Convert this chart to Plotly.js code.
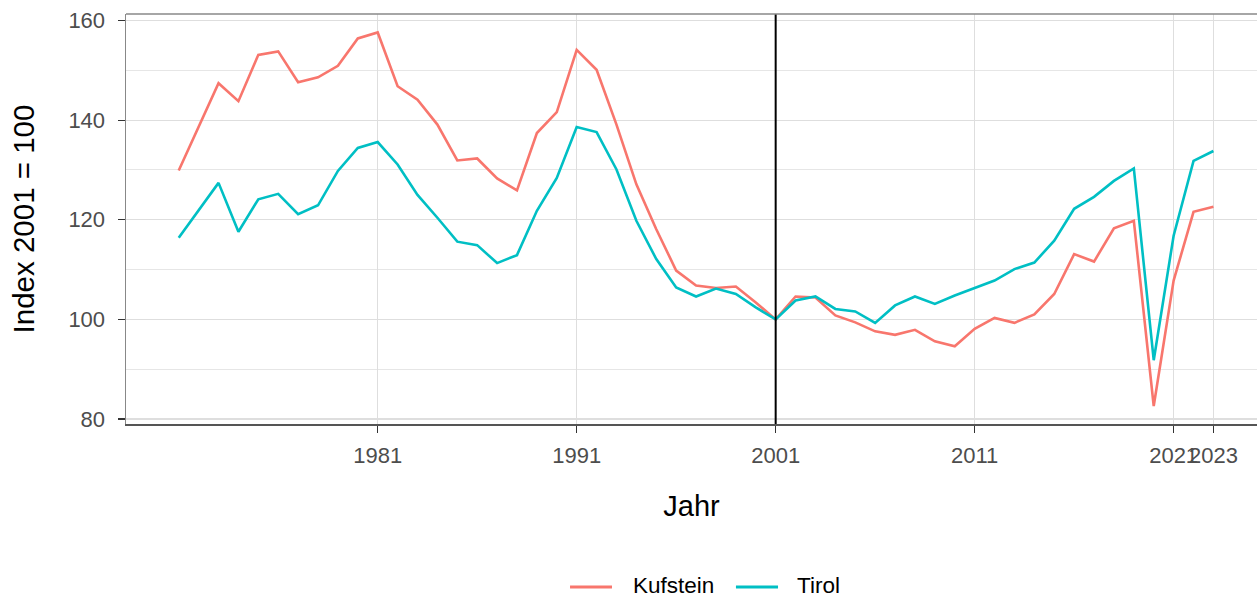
<!DOCTYPE html>
<html>
<head>
<meta charset="utf-8">
<script src="https://cdn.plot.ly/plotly-3.0.1.min.js"></script>
<style>html,body{margin:0;padding:0;background:#fff;}#chart{width:1257px;height:599px;}</style>
</head>
<body>
<div id="chart"></div>
<script>
var years = [1971,1972,1973,1974,1975,1976,1977,1978,1979,1980,1981,1982,1983,1984,1985,1986,1987,1988,1989,1990,1991,1992,1993,1994,1995,1996,1997,1998,1999,2000,2001,2002,2003,2004,2005,2006,2007,2008,2009,2010,2011,2012,2013,2014,2015,2016,2017,2018,2019,2020,2021,2022,2023];
var kufstein = [129.9,138.8,147.4,143.8,153.1,153.8,147.6,148.6,150.9,156.4,157.6,146.8,144.1,139.1,131.9,132.3,128.3,125.9,137.4,141.6,154.1,150.1,139.1,127.1,118.1,109.8,106.8,106.3,106.6,103.4,100.0,104.6,104.4,100.8,99.4,97.6,96.9,97.9,95.6,94.6,98.1,100.3,99.3,101.0,105.1,113.1,111.6,118.3,119.8,82.6,107.8,121.6,122.6];
var tirol = [116.4,122.0,127.4,117.6,124.1,125.2,121.1,122.9,129.8,134.4,135.6,131.1,125.0,120.4,115.6,114.9,111.3,112.9,121.8,128.4,138.6,137.6,130.1,119.8,112.1,106.4,104.6,106.2,105.1,102.4,100.0,103.8,104.6,102.1,101.6,99.3,102.8,104.6,103.1,104.8,106.3,107.8,110.1,111.4,115.8,122.2,124.6,127.8,130.3,91.8,116.8,131.8,133.8];
var xTicks = [1981,1991,2001,2011,2021,2023];
var yTicks = [80,100,120,140,160];
var refYear = 2001;
var seriesNames = ["Kufstein", "Tirol"];
var seriesColors = ["#F8766D", "#00BFC4"];

var font = "Liberation Sans, Arial, sans-serif";
var traces = [
  {x: years, y: kufstein, type: "scatter", mode: "lines", name: seriesNames[0], line: {color: seriesColors[0], width: 2.6}},
  {x: years, y: tirol, type: "scatter", mode: "lines", name: seriesNames[1], line: {color: seriesColors[1], width: 2.6}}
];

// manual legend (ggplot-style, long key lines)
var legLineY = -0.3976;
var legTextY = -0.4265;
var legKeys = [[0.3926, 0.4297, 0.4474], [0.5393, 0.5765, 0.5924]];
var shapes = [
  {type: "line", xref: "x", yref: "paper", x0: refYear, x1: refYear, y0: 0, y1: 1, line: {color: "#000", width: 2}},
  {type: "line", xref: "paper", yref: "paper", x0: 0, x1: 1, y0: 1, y1: 1, line: {color: "#888", width: 1.5}}
];
var annotations = [];
legKeys.forEach(function(k, i) {
  shapes.push({type: "line", xref: "paper", yref: "paper", x0: k[0], x1: k[1], y0: legLineY, y1: legLineY,
               line: {color: seriesColors[i], width: 3}});
  annotations.push({xref: "paper", yref: "paper", x: k[2], y: legTextY, xanchor: "left", yanchor: "bottom",
                    text: seriesNames[i], showarrow: false, borderpad: 0,
                    font: {family: font, size: 22.5, color: "#000"}});
});

var layout = {
  width: 1257, height: 599,
  margin: {l: 126, r: 0, t: 14, b: 175, autoexpand: false},
  paper_bgcolor: "#fff", plot_bgcolor: "#fff",
  showlegend: false,
  xaxis: {
    range: [1968.35, 2025.19], tickmode: "array", tickvals: xTicks, ticktext: xTicks.map(String),
    tickangle: 0, ticks: "outside", ticklen: 7, tickcolor: "#333", tickwidth: 1.2,
    tickfont: {family: font, size: 22, color: "#4d4d4d"}, ticklabelstandoff: 4,
    showgrid: true, gridcolor: "#dedede", gridwidth: 1.2, zeroline: false,
    showline: true, linecolor: "#555", linewidth: 2,
    title: {text: "Jahr", font: {family: font, size: 29, color: "#000"}, standoff: 28}
  },
  yaxis: {
    range: [79.0, 161.3], tickmode: "array", tickvals: yTicks,
    ticks: "outside", ticklen: 7, tickcolor: "#333", tickwidth: 1.2,
    tickfont: {family: font, size: 22, color: "#4d4d4d"}, ticklabelstandoff: 8,
    showgrid: true, gridcolor: "#dedede", gridwidth: 1.2, zeroline: false,
    minor: {tickmode: "array", tickvals: [90,110,130,150], showgrid: true, gridcolor: "#e6e6e6", gridwidth: 1, ticks: ""},
    showline: true, linecolor: "#888", linewidth: 1.5,
    title: {text: "Index 2001 = 100", font: {family: font, size: 29.5, color: "#000"}, standoff: 25}
  },
  shapes: shapes,
  annotations: annotations
};
Plotly.newPlot("chart", traces, layout, {displayModeBar: false, staticPlot: true});
</script>
</body>
</html>
